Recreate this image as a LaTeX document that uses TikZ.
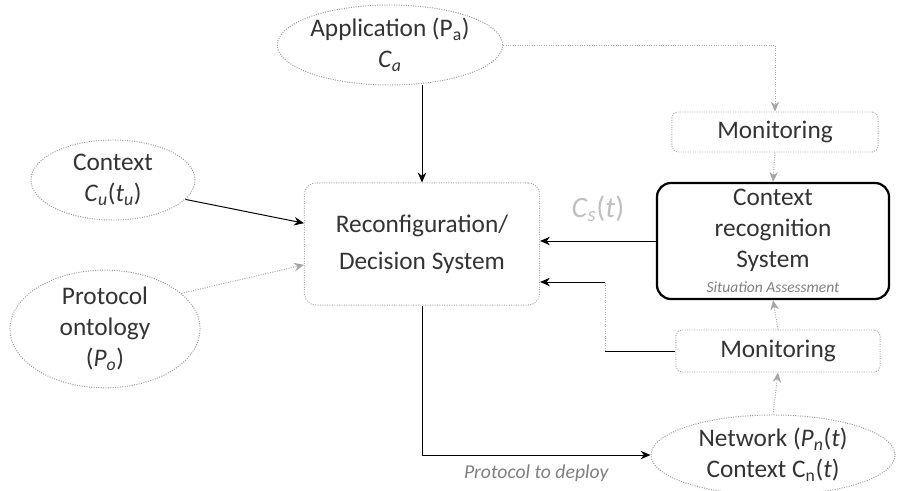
\documentclass[tikz,border=0pt]{standalone}
\usepackage{fontspec}
\setmainfont{Carlito}
\usetikzlibrary{shapes.geometric,arrows.meta,positioning}

\newcommand{\sym}[2]{\textit{#1}\textsubscript{\textit{#2}}}

\tikzset{
  src/.style={ellipse,draw=gray!80,densely dotted,line width=0.7pt,inner sep=0pt,align=center},
  blk/.style={rectangle,rounded corners=8pt,draw=gray!70,densely dotted,line width=0.7pt,align=center},
  flow/.style={-{Stealth[length=7pt,width=6pt]},line width=0.7pt},
  soft/.style={gray!70,densely dotted},
}

\begin{document}
\begin{tikzpicture}[x=0.025cm,y=-0.025cm,font=\fontsize{18}{22}\selectfont,text=black!80]
   \useasboundingbox (0,0) rectangle (899,491);
   % inputs
   \begin{scope}[every node/.style={src}]
    \node[minimum width=5.6cm,minimum height=2cm] (app) at (390,45) {Application (P\textsubscript{a})\\\sym{C}{a}};
    \node[minimum width=4.1cm,minimum height=2cm] (ctx) at (113,180) {Context\\\sym{C}{u}(\sym{t}{u})};
    \node[minimum width=4.75cm,minimum height=2.3cm] (proto) at (105,329) {Protocol\\ontology\\(\sym{P}{o})};
    \node[minimum width=6.1cm,minimum height=2cm] (net) at (773,455) {Network (\sym{P}{n}(\textit{t})\\Context C\textsubscript{n}(\textit{t})};
   \end{scope}
   % blocks
   \begin{scope}[every node/.style={blk}]
    \node[minimum width=5.875cm,minimum height=3.05cm,font=\fontsize{18}{26}\selectfont] (rec) at (422,244) {Reconfiguration/\\Decision System};
    \node[minimum width=5.15cm,minimum height=1cm,rounded corners=4pt] (mon1) at (775,132) {Monitoring};
    \node[minimum width=5.1cm,minimum height=1.05cm,rounded corners=4pt] (mon2) at (778,351) {Monitoring};
    \node[draw=black,solid,line width=1.6pt,minimum width=5.8cm,minimum height=2.9cm,rounded corners=10pt] (crs) at (773,241)
      {Context\\recognition\\System\\[-4pt]{\fontsize{11}{12}\selectfont\itshape\color{gray}Situation Assessment}};
   \end{scope}
   \coordinate (bend) at (605,282);
   % connections
   \draw[flow] (rec.north |- app.south) -- (rec.north);
   \draw[flow,soft] (app.east) -| (mon1.north);
   \draw[flow] (ctx.345) -- (rec.170);
   \draw[flow,soft] (proto.25) -- (rec.190);
   \draw[flow,soft] (mon1.south) -- (crs.north);
   \draw[flow] (crs.west) -- (crs.west -| rec.east)
     node[midway,above=10pt,text=gray!50,font=\fontsize{21}{22}\selectfont] {\sym{C}{s}(\textit{t})};
   \draw[line width=0.7pt] (mon2.west) -- (mon2.west -| bend);
   \draw[soft,line width=0.7pt] (mon2.west -| bend) -- (bend);
   \draw[flow] (bend) -- (bend -| rec.east);
   \draw[flow,soft] (mon2.north) -- (crs.south);
   \draw[flow,soft] (net.north) -- (mon2.south);
   \draw[flow] (rec.south) |- (net.west)
     node[pos=0.75,below=3pt,text=gray,font=\fontsize{14}{16}\selectfont\itshape] {Protocol to deploy};
\end{tikzpicture}
\end{document}
